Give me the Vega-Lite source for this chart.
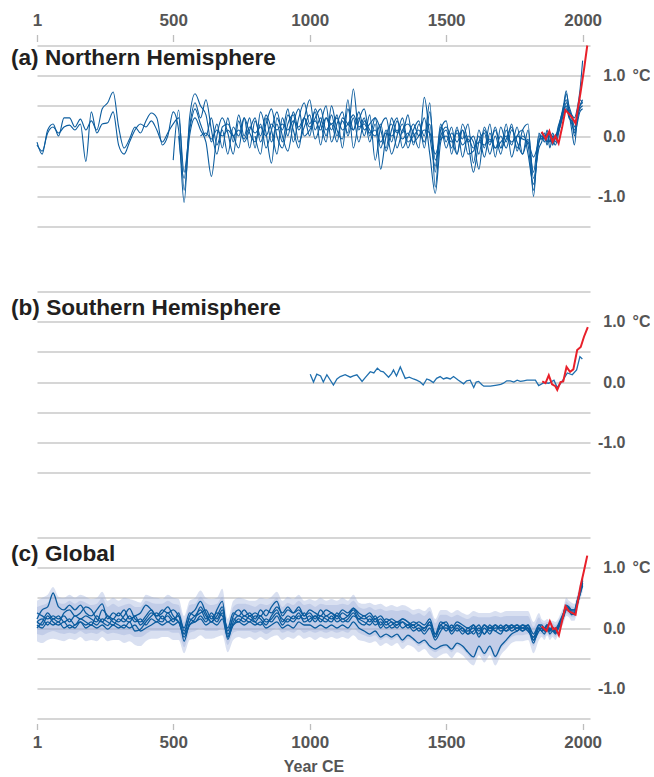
{
"$schema": "https://vega.github.io/schema/vega-lite/v6.json",
"padding": {"top": 11.5, "left": 11, "right": 0, "bottom": 0},
"config": {"font": "Liberation Sans", "view": {"stroke": null}},
"spacing": 65,
"datasets": {
"nh": [
{"x":1,"a":-0.1,"b":-0.15},{"x":20,"a":-0.3,"b":-0.25},{"x":40,"a":0.1,"b":0.05},{"x":60,"a":0.2,"b":0.15},{"x":80,"a":0.0,"b":0.05},
{"x":100,"a":0.3,"b":0.15},{"x":120,"a":0.3,"b":0.18},{"x":140,"a":0.15,"b":0.1},{"x":160,"a":0.28,"b":0.2},{"x":180,"a":0.1,"b":-0.42},
{"x":200,"a":0.25,"b":0.4},{"x":220,"a":0.1,"b":0.05},{"x":240,"a":0.45,"b":0.2},{"x":260,"a":0.55,"b":0.22},{"x":280,"a":0.73,"b":0.4},
{"x":300,"a":0.15,"b":-0.15},{"x":320,"a":-0.2,"b":-0.3},{"x":340,"a":-0.05,"b":-0.1},{"x":360,"a":0.15,"b":0.1},{"x":380,"a":0.05,"b":0.2},
{"x":400,"a":0.25,"b":0.15},{"x":420,"a":0.38,"b":0.25},{"x":440,"a":0.3,"b":0.1},{"x":460,"a":-0.15,"b":-0.1},{"x":480,"a":0.0,"b":0.05},
{"x":500,"a":0.4,"b":0.2,"c":-0.4},{"x":520,"a":0.1,"b":0.3,"c":0.43,"d":0.0},{"x":540,"a":-1.1,"b":-0.6,"c":-0.9,"d":-0.7},{"x":560,"a":0.3,"b":0.1,"c":0.0,"d":0.15},{"x":580,"a":0.7,"b":0.45,"c":0.3,"d":0.55},
{"x":600,"a":0.5,"b":0.2,"c":0.1,"d":0.3,"e":0.0},{"x":620,"a":0.35,"b":0.0,"c":-0.1,"d":0.6,"e":0.05},{"x":640,"a":-0.1,"b":0.3,"c":-0.67,"d":0.1,"e":-0.05},{"x":660,"a":0.2,"b":-0.15,"c":0.0,"d":-0.3,"e":0.1},{"x":680,"a":-0.2,"b":0.1,"c":0.3,"d":0.15,"e":0.0},
{"x":700,"a":0.3,"b":-0.3,"c":0.05,"d":0.2,"e":0.1},{"x":720,"a":-0.1,"b":0.15,"c":-0.3,"d":0.0,"e":0.0},{"x":740,"a":0.35,"b":0.0,"c":0.25,"d":-0.2,"e":0.1},{"x":760,"a":0.0,"b":0.3,"c":-0.1,"d":0.3,"e":-0.05},{"x":780,"a":0.3,"b":-0.2,"c":0.1,"d":0.05,"e":0.15},
{"x":800,"a":-0.2,"b":0.25,"c":0.3,"d":-0.1,"e":0.05,"f":0.0},{"x":820,"a":0.4,"b":0.0,"c":-0.1,"d":0.2,"e":0.15,"f":-0.3},{"x":840,"a":0.05,"b":0.35,"c":0.2,"d":-0.2,"e":0.0,"f":0.3},{"x":860,"a":-0.45,"b":0.1,"c":0.45,"d":0.1,"e":0.2,"f":-0.1},{"x":880,"a":0.3,"b":-0.3,"c":0.0,"d":0.4,"e":0.1,"f":0.2},
{"x":900,"a":0.1,"b":0.3,"c":-0.2,"d":0.0,"e":0.2,"f":-0.1},{"x":920,"a":0.45,"b":0.0,"c":0.2,"d":-0.25,"e":0.1,"f":0.35},{"x":940,"a":-0.1,"b":0.4,"c":0.35,"d":0.2,"e":0.25,"f":0.1},{"x":960,"a":0.3,"b":0.1,"c":-0.1,"d":0.45,"e":0.15,"f":-0.2},{"x":980,"a":0.55,"b":0.3,"c":0.15,"d":0.0,"e":0.3,"f":0.3},
{"x":1000,"a":0.2,"b":0.6,"c":0.35,"d":0.1,"e":0.15,"f":0.0},{"x":1020,"a":0.4,"b":0.1,"c":-0.05,"d":0.3,"e":0.25,"f":0.45},{"x":1040,"a":-0.15,"b":0.3,"c":0.2,"d":0.45,"e":0.1,"f":0.2},{"x":1060,"a":0.3,"b":0.0,"c":0.5,"d":0.1,"e":0.3,"f":-0.1},{"x":1080,"a":0.1,"b":0.35,"c":-0.1,"d":0.2,"e":0.2,"f":0.5},
{"x":1100,"a":0.35,"b":0.0,"c":0.2,"d":-0.1,"e":0.3,"f":0.1},{"x":1120,"a":-0.2,"b":0.25,"c":0.4,"d":0.3,"e":0.1,"f":-0.05},{"x":1140,"a":0.45,"b":0.05,"c":0.0,"d":0.2,"e":0.2,"f":0.6},{"x":1160,"a":0.1,"b":0.78,"c":0.3,"d":0.1,"e":0.35,"f":-0.2},{"x":1180,"a":0.3,"b":0.1,"c":-0.1,"d":0.4,"e":0.15,"f":0.25},
{"x":1200,"a":0.0,"b":0.3,"c":0.25,"d":0.1,"e":0.2,"f":0.45},{"x":1220,"a":0.35,"b":-0.1,"c":0.1,"d":0.2,"e":0.05,"f":0.0},{"x":1240,"a":-0.4,"b":0.2,"c":0.0,"d":0.3,"e":0.1,"f":0.3},{"x":1260,"a":0.15,"b":-0.55,"c":0.2,"d":-0.2,"e":-0.1,"f":0.1},{"x":1280,"a":0.3,"b":0.0,"c":-0.25,"d":0.1,"e":0.05,"f":-0.2},
{"x":1300,"a":-0.1,"b":0.2,"c":0.1,"d":-0.3,"e":0.0,"f":0.3},{"x":1320,"a":0.25,"b":-0.2,"c":0.3,"d":0.0,"e":0.1,"f":0.05},{"x":1340,"a":0.05,"b":0.1,"c":-0.2,"d":0.3,"e":-0.05,"f":0.2},{"x":1360,"a":0.35,"b":0.2,"c":0.0,"d":-0.1,"e":0.05,"f":-0.2},{"x":1380,"a":-0.15,"b":0.05,"c":0.2,"d":0.0,"e":-0.1,"f":0.1},
{"x":1400,"a":0.2,"b":-0.2,"c":0.0,"d":0.1,"e":0.0,"f":0.25},{"x":1420,"a":0.0,"b":0.64,"c":0.3,"d":-0.1,"e":0.1,"f":-0.2},{"x":1440,"a":0.55,"b":0.0,"c":-0.3,"d":0.2,"e":0.05,"f":0.4},{"x":1460,"a":-0.85,"b":-0.5,"c":-0.95,"d":-0.6,"e":-0.3,"f":-0.4},{"x":1480,"a":0.1,"b":0.2,"c":-0.1,"d":0.15,"e":-0.05,"f":0.0},
{"x":1500,"a":0.25,"b":-0.1,"c":0.1,"d":-0.2,"e":0.0,"f":0.15},{"x":1520,"a":-0.3,"b":0.15,"c":-0.2,"d":0.05,"e":-0.1,"f":-0.05},{"x":1540,"a":0.1,"b":-0.3,"c":0.15,"d":-0.1,"e":0.05,"f":-0.3},{"x":1560,"a":-0.05,"b":0.2,"c":-0.35,"d":0.1,"e":-0.15,"f":0.1},{"x":1580,"a":0.2,"b":-0.1,"c":0.0,"d":-0.3,"e":-0.05,"f":-0.1},
{"x":1600,"a":-0.45,"b":-0.6,"c":-0.1,"d":-0.25,"e":-0.2,"f":0.0},{"x":1620,"a":0.1,"b":-0.1,"c":-0.55,"d":0.0,"e":-0.1,"f":-0.3},{"x":1640,"a":-0.2,"b":0.05,"c":0.1,"d":-0.35,"e":-0.15,"f":0.15},{"x":1660,"a":0.2,"b":-0.3,"c":-0.15,"d":0.05,"e":-0.05,"f":-0.1},{"x":1680,"a":-0.35,"b":0.0,"c":0.15,"d":-0.2,"e":-0.2,"f":0.1},
{"x":1700,"a":0.15,"b":-0.3,"c":-0.2,"d":0.0,"e":-0.1,"f":-0.2},{"x":1720,"a":-0.1,"b":0.1,"c":0.2,"d":-0.2,"e":0.0,"f":-0.05},{"x":1740,"a":0.2,"b":-0.15,"c":-0.35,"d":0.1,"e":-0.1,"f":0.15},{"x":1760,"a":-0.25,"b":0.15,"c":0.0,"d":-0.1,"e":0.0,"f":-0.2},{"x":1780,"a":0.1,"b":-0.3,"c":0.1,"d":-0.3,"e":-0.05,"f":0.0},
{"x":1800,"a":0.2,"b":-0.05,"c":-0.3,"d":0.1,"e":-0.1,"f":-0.15},{"x":1820,"a":-1.0,"b":-0.6,"c":-0.8,"d":-0.7,"e":-0.35,"f":-0.9},{"x":1840,"a":0.05,"b":0.0,"c":-0.1,"d":-0.2,"e":-0.1,"f":-0.05},
{"x":1850,"a":-0.05,"b":0.0,"c":0.05,"d":-0.1,"e":0.0,"f":-0.05},{"x":1860,"a":0.0,"b":-0.1,"c":-0.05,"d":0.05,"e":-0.05,"f":0.0},{"x":1870,"a":-0.15,"b":0.05,"c":0.1,"d":-0.1,"e":0.0,"f":-0.1},{"x":1880,"a":0.05,"b":-0.2,"c":-0.1,"d":0.0,"e":-0.1,"f":0.05},
{"x":1890,"a":-0.1,"b":0.0,"c":0.05,"d":-0.15,"e":0.0,"f":-0.05},{"x":1900,"a":0.0,"b":-0.1,"c":-0.05,"d":0.0,"e":-0.05,"f":-0.15},{"x":1910,"a":0.1,"b":0.1,"c":0.15,"d":0.05,"e":0.05,"f":0.0},{"x":1920,"a":0.3,"b":0.25,"c":0.3,"d":0.2,"e":0.2,"f":0.25},
{"x":1930,"a":0.45,"b":0.5,"c":0.5,"d":0.4,"e":0.35,"f":0.4},{"x":1940,"a":0.7,"b":0.75,"c":0.6,"d":0.55,"e":0.45,"f":0.5},{"x":1950,"a":0.5,"b":0.4,"c":0.35,"d":0.45,"e":0.4,"f":0.3},{"x":1960,"a":0.35,"b":0.1,"c":0.2,"d":0.3,"e":0.35,"f":0.25},
{"x":1970,"a":0.15,"b":-0.15,"c":0.1,"d":0.0,"e":0.3,"f":0.05},{"x":1980,"a":0.35,"b":0.25,"c":0.3,"d":0.2,"e":0.45,"f":0.3},{"x":1990,"a":0.6,"b":0.45,"c":0.5,"d":0.4,"e":0.75,"f":0.5},{"x":2000,"a":0.55,"b":0.5,"c":0.6,"d":0.45,"e":1.25,"f":0.55}
],
"gl": [
{"x":1,"a":0.15,"b":0.0,"c":0.25,"d":0.05,"e":0.1,"f":0.1,"h1":0.45,"h2":0.35,"l2":-0.1,"l1":-0.22},
{"x":20,"a":0.3,"b":0.1,"c":0.2,"d":0.0,"e":0.15,"f":0.05,"h1":0.5,"h2":0.38,"l2":-0.12,"l1":-0.25},
{"x":40,"a":0.35,"b":0.25,"c":0.15,"d":0.1,"e":0.05,"f":0.2,"h1":0.55,"h2":0.42,"l2":-0.08,"l1":-0.2},
{"x":60,"a":0.58,"b":0.15,"c":0.2,"d":0.05,"e":0.15,"f":0.1,"h1":0.68,"h2":0.55,"l2":-0.05,"l1":-0.18},
{"x":80,"a":0.35,"b":0.2,"c":0.15,"d":0.1,"e":0.1,"f":0.05,"h1":0.52,"h2":0.42,"l2":-0.08,"l1":-0.2},
{"x":100,"a":0.3,"b":0.1,"c":0.2,"d":0.0,"e":0.25,"f":0.1,"h1":0.5,"h2":0.4,"l2":-0.1,"l1":-0.22},
{"x":120,"a":0.38,"b":0.15,"c":0.1,"d":0.05,"e":0.3,"f":0.0,"h1":0.55,"h2":0.45,"l2":-0.08,"l1":-0.18},
{"x":140,"a":0.3,"b":0.05,"c":0.2,"d":0.0,"e":0.2,"f":0.05,"h1":0.5,"h2":0.4,"l2":-0.1,"l1":-0.2},
{"x":160,"a":0.38,"b":0.15,"c":0.15,"d":0.1,"e":0.25,"f":0.1,"h1":0.55,"h2":0.45,"l2":-0.05,"l1":-0.15},
{"x":180,"a":0.25,"b":0.1,"c":0.2,"d":0.05,"e":0.35,"f":0.0,"h1":0.52,"h2":0.42,"l2":-0.1,"l1":-0.22},
{"x":200,"a":0.2,"b":0.05,"c":0.15,"d":0.1,"e":0.3,"f":0.05,"h1":0.48,"h2":0.38,"l2":-0.08,"l1":-0.2},
{"x":220,"a":0.3,"b":0.2,"c":0.1,"d":0.05,"e":0.15,"f":0.0,"h1":0.5,"h2":0.4,"l2":-0.1,"l1":-0.22},
{"x":240,"a":0.4,"b":0.1,"c":0.3,"d":0.15,"e":0.1,"f":0.05,"h1":0.6,"h2":0.5,"l2":-0.05,"l1":-0.15},
{"x":260,"a":0.15,"b":0.04,"c":0.2,"d":0.1,"e":0.2,"f":-0.02,"h1":0.45,"h2":0.35,"l2":-0.1,"l1":-0.22},
{"x":280,"a":0.25,"b":0.15,"c":0.1,"d":0.05,"e":0.15,"f":0.05,"h1":0.5,"h2":0.4,"l2":-0.08,"l1":-0.2},
{"x":300,"a":0.2,"b":0.1,"c":0.05,"d":0.15,"e":0.25,"f":0.0,"h1":0.45,"h2":0.35,"l2":-0.1,"l1":-0.2},
{"x":320,"a":0.3,"b":0.2,"c":0.0,"d":0.1,"e":0.15,"f":0.05,"h1":0.5,"h2":0.38,"l2":-0.12,"l1":-0.25},
{"x":340,"a":0.15,"b":0.32,"c":0.1,"d":0.2,"e":0.1,"f":0.0,"h1":0.48,"h2":0.4,"l2":-0.1,"l1":-0.22},
{"x":360,"a":0.2,"b":0.15,"c":-0.05,"d":0.1,"e":0.2,"f":0.05,"h1":0.45,"h2":0.35,"l2":-0.15,"l1":-0.28},
{"x":380,"a":0.25,"b":0.1,"c":-0.02,"d":0.15,"e":0.05,"f":-0.05,"h1":0.42,"h2":0.35,"l2":-0.15,"l1":-0.3},
{"x":400,"a":0.38,"b":0.2,"c":0.1,"d":0.05,"e":0.15,"f":0.0,"h1":0.55,"h2":0.45,"l2":-0.1,"l1":-0.22},
{"x":420,"a":0.3,"b":0.3,"c":0.2,"d":0.15,"e":0.25,"f":0.05,"h1":0.52,"h2":0.42,"l2":-0.05,"l1":-0.18},
{"x":440,"a":0.2,"b":0.15,"c":0.25,"d":0.1,"e":0.2,"f":0.1,"h1":0.5,"h2":0.4,"l2":-0.05,"l1":-0.18},
{"x":460,"a":0.25,"b":0.1,"c":0.15,"d":0.2,"e":0.3,"f":0.05,"h1":0.48,"h2":0.4,"l2":-0.05,"l1":-0.15},
{"x":480,"a":0.35,"b":0.25,"c":0.2,"d":0.1,"e":0.25,"f":0.1,"h1":0.55,"h2":0.45,"l2":-0.05,"l1":-0.15},
{"x":500,"a":0.2,"b":0.15,"c":0.1,"d":0.15,"e":0.3,"f":0.05,"h1":0.5,"h2":0.4,"l2":-0.08,"l1":-0.2},
{"x":520,"a":0.1,"b":0.2,"c":0.25,"d":0.1,"e":0.2,"f":0.1,"h1":0.48,"h2":0.38,"l2":-0.08,"l1":-0.2},
{"x":540,"a":-0.1,"b":-0.22,"c":-0.05,"d":-0.15,"e":0.0,"f":-0.1,"h1":0.2,"h2":0.1,"l2":-0.32,"l1":-0.42},
{"x":560,"a":0.2,"b":0.1,"c":0.15,"d":0.05,"e":0.25,"f":0.05,"h1":0.45,"h2":0.38,"l2":-0.08,"l1":-0.2},
{"x":580,"a":0.3,"b":0.2,"c":0.1,"d":0.15,"e":0.2,"f":0.1,"h1":0.5,"h2":0.4,"l2":-0.05,"l1":-0.18},
{"x":600,"a":0.44,"b":0.3,"c":0.2,"d":0.35,"e":0.25,"f":0.15,"h1":0.62,"h2":0.52,"l2":0.0,"l1":-0.12},
{"x":620,"a":0.25,"b":0.15,"c":0.1,"d":0.2,"e":0.3,"f":0.05,"h1":0.5,"h2":0.42,"l2":-0.05,"l1":-0.18},
{"x":640,"a":0.1,"b":0.2,"c":0.25,"d":0.1,"e":0.15,"f":0.1,"h1":0.48,"h2":0.38,"l2":-0.05,"l1":-0.18},
{"x":660,"a":0.3,"b":0.1,"c":0.15,"d":0.2,"e":0.25,"f":0.05,"h1":0.5,"h2":0.4,"l2":-0.05,"l1":-0.15},
{"x":680,"a":0.44,"b":0.25,"c":0.3,"d":0.35,"e":0.2,"f":0.15,"h1":0.65,"h2":0.52,"l2":0.0,"l1":-0.12},
{"x":700,"a":-0.15,"b":-0.19,"c":-0.05,"d":-0.1,"e":0.0,"f":-0.15,"h1":0.15,"h2":0.05,"l2":-0.28,"l1":-0.4},
{"x":720,"a":0.2,"b":0.1,"c":0.15,"d":0.05,"e":0.25,"f":0.05,"h1":0.45,"h2":0.35,"l2":-0.08,"l1":-0.2},
{"x":740,"a":0.3,"b":0.2,"c":0.1,"d":0.15,"e":0.2,"f":0.1,"h1":0.5,"h2":0.4,"l2":-0.05,"l1":-0.15},
{"x":760,"a":0.2,"b":0.15,"c":0.2,"d":0.1,"e":0.3,"f":0.05,"h1":0.48,"h2":0.4,"l2":-0.05,"l1":-0.18},
{"x":780,"a":0.25,"b":0.1,"c":0.15,"d":0.2,"e":0.2,"f":0.1,"h1":0.45,"h2":0.38,"l2":-0.05,"l1":-0.15},
{"x":800,"a":0.15,"b":0.2,"c":0.1,"d":0.1,"e":0.25,"f":0.05,"h1":0.45,"h2":0.35,"l2":-0.08,"l1":-0.2},
{"x":820,"a":0.3,"b":0.15,"c":0.2,"d":0.05,"e":0.2,"f":0.1,"h1":0.5,"h2":0.4,"l2":-0.05,"l1":-0.15},
{"x":840,"a":0.2,"b":0.05,"c":0.1,"d":0.15,"e":0.3,"f":0.0,"h1":0.48,"h2":0.38,"l2":-0.1,"l1":-0.2},
{"x":860,"a":0.35,"b":0.2,"c":0.15,"d":0.1,"e":0.25,"f":0.05,"h1":0.52,"h2":0.42,"l2":-0.05,"l1":-0.15},
{"x":880,"a":0.44,"b":0.3,"c":0.25,"d":0.2,"e":0.35,"f":0.1,"h1":0.6,"h2":0.5,"l2":0.0,"l1":-0.12},
{"x":900,"a":0.2,"b":0.1,"c":0.15,"d":0.05,"e":0.25,"f":0.0,"h1":0.45,"h2":0.35,"l2":-0.08,"l1":-0.2},
{"x":920,"a":0.3,"b":0.2,"c":0.1,"d":0.15,"e":0.35,"f":0.05,"h1":0.52,"h2":0.42,"l2":-0.05,"l1":-0.15},
{"x":940,"a":0.25,"b":0.15,"c":0.2,"d":0.1,"e":0.25,"f":0.0,"h1":0.48,"h2":0.38,"l2":-0.08,"l1":-0.18},
{"x":960,"a":0.35,"b":0.25,"c":0.15,"d":0.2,"e":0.3,"f":0.1,"h1":0.55,"h2":0.45,"l2":-0.02,"l1":-0.12},
{"x":980,"a":0.2,"b":0.1,"c":0.25,"d":0.15,"e":0.2,"f":0.05,"h1":0.45,"h2":0.38,"l2":-0.08,"l1":-0.18},
{"x":1000,"a":0.25,"b":0.15,"c":0.1,"d":0.2,"e":0.3,"f":0.05,"h1":0.48,"h2":0.4,"l2":-0.05,"l1":-0.15},
{"x":1020,"a":0.15,"b":0.2,"c":0.2,"d":0.1,"e":0.25,"f":0.0,"h1":0.45,"h2":0.35,"l2":-0.08,"l1":-0.2},
{"x":1040,"a":0.3,"b":0.1,"c":0.15,"d":0.2,"e":0.2,"f":0.05,"h1":0.5,"h2":0.4,"l2":-0.05,"l1":-0.15},
{"x":1060,"a":0.2,"b":0.2,"c":0.1,"d":0.15,"e":0.3,"f":0.0,"h1":0.45,"h2":0.38,"l2":-0.08,"l1":-0.18},
{"x":1080,"a":0.25,"b":0.15,"c":0.2,"d":0.1,"e":0.25,"f":0.05,"h1":0.48,"h2":0.38,"l2":-0.05,"l1":-0.15},
{"x":1100,"a":0.15,"b":0.2,"c":0.1,"d":0.25,"e":0.2,"f":0.0,"h1":0.45,"h2":0.38,"l2":-0.08,"l1":-0.18},
{"x":1120,"a":0.25,"b":0.1,"c":0.15,"d":0.15,"e":0.3,"f":0.05,"h1":0.5,"h2":0.4,"l2":-0.05,"l1":-0.15},
{"x":1140,"a":0.2,"b":0.15,"c":0.1,"d":0.2,"e":0.25,"f":0.0,"h1":0.45,"h2":0.38,"l2":-0.08,"l1":-0.18},
{"x":1160,"a":0.33,"b":0.25,"c":0.2,"d":0.3,"e":0.33,"f":0.1,"h1":0.55,"h2":0.45,"l2":0.0,"l1":-0.12},
{"x":1180,"a":0.2,"b":0.1,"c":0.15,"d":0.15,"e":0.25,"f":0.0,"h1":0.42,"h2":0.35,"l2":-0.08,"l1":-0.2},
{"x":1200,"a":0.15,"b":0.05,"c":0.1,"d":0.2,"e":0.2,"f":-0.05,"h1":0.4,"h2":0.32,"l2":-0.12,"l1":-0.22},
{"x":1220,"a":0.2,"b":0.15,"c":0.05,"d":0.1,"e":0.25,"f":-0.1,"h1":0.42,"h2":0.35,"l2":-0.15,"l1":-0.25},
{"x":1240,"a":0.1,"b":0.05,"c":0.15,"d":0.2,"e":0.15,"f":-0.05,"h1":0.38,"h2":0.3,"l2":-0.12,"l1":-0.22},
{"x":1260,"a":0.15,"b":0.1,"c":0.0,"d":0.05,"e":0.2,"f":-0.15,"h1":0.4,"h2":0.32,"l2":-0.2,"l1":-0.3},
{"x":1280,"a":0.05,"b":0.0,"c":0.1,"d":0.15,"e":0.1,"f":-0.1,"h1":0.35,"h2":0.28,"l2":-0.15,"l1":-0.25},
{"x":1300,"a":0.1,"b":0.05,"c":0.0,"d":0.1,"e":0.15,"f":-0.15,"h1":0.38,"h2":0.3,"l2":-0.2,"l1":-0.3},
{"x":1320,"a":0.05,"b":0.1,"c":0.05,"d":0.0,"e":0.1,"f":-0.1,"h1":0.35,"h2":0.28,"l2":-0.15,"l1":-0.25},
{"x":1340,"a":0.15,"b":0.0,"c":0.1,"d":0.1,"e":0.15,"f":-0.2,"h1":0.38,"h2":0.3,"l2":-0.25,"l1":-0.35},
{"x":1360,"a":0.1,"b":0.05,"c":0.0,"d":0.05,"e":0.1,"f":-0.12,"h1":0.35,"h2":0.28,"l2":-0.18,"l1":-0.28},
{"x":1380,"a":0.0,"b":-0.05,"c":0.05,"d":0.1,"e":0.05,"f":-0.18,"h1":0.3,"h2":0.22,"l2":-0.22,"l1":-0.32},
{"x":1400,"a":0.05,"b":0.0,"c":-0.05,"d":0.05,"e":0.1,"f":-0.25,"h1":0.32,"h2":0.25,"l2":-0.3,"l1":-0.4},
{"x":1420,"a":-0.05,"b":-0.1,"c":0.0,"d":0.0,"e":0.05,"f":-0.2,"h1":0.28,"h2":0.2,"l2":-0.25,"l1":-0.35},
{"x":1440,"a":0.1,"b":0.0,"c":0.05,"d":0.1,"e":0.15,"f":-0.3,"h1":0.35,"h2":0.28,"l2":-0.35,"l1":-0.45},
{"x":1460,"a":-0.15,"b":-0.2,"c":-0.1,"d":-0.15,"e":-0.1,"f":-0.35,"h1":0.15,"h2":0.08,"l2":-0.4,"l1":-0.5},
{"x":1480,"a":0.05,"b":-0.05,"c":0.0,"d":0.05,"e":0.1,"f":-0.3,"h1":0.3,"h2":0.22,"l2":-0.35,"l1":-0.45},
{"x":1500,"a":0.1,"b":0.05,"c":0.0,"d":-0.05,"e":0.05,"f":-0.28,"h1":0.3,"h2":0.22,"l2":-0.32,"l1":-0.42},
{"x":1520,"a":-0.05,"b":-0.1,"c":-0.05,"d":0.05,"e":0.0,"f":-0.35,"h1":0.25,"h2":0.18,"l2":-0.4,"l1":-0.5},
{"x":1540,"a":0.05,"b":0.0,"c":0.05,"d":-0.05,"e":0.1,"f":-0.25,"h1":0.3,"h2":0.22,"l2":-0.3,"l1":-0.4},
{"x":1560,"a":0.0,"b":-0.1,"c":-0.05,"d":0.0,"e":0.05,"f":-0.3,"h1":0.25,"h2":0.18,"l2":-0.35,"l1":-0.45},
{"x":1580,"a":-0.1,"b":0.0,"c":-0.05,"d":-0.1,"e":0.0,"f":-0.4,"h1":0.22,"h2":0.15,"l2":-0.45,"l1":-0.55},
{"x":1600,"a":0.05,"b":-0.1,"c":0.0,"d":-0.05,"e":0.05,"f":-0.48,"h1":0.28,"h2":0.2,"l2":-0.52,"l1":-0.62},
{"x":1620,"a":-0.15,"b":0.0,"c":-0.1,"d":0.05,"e":-0.05,"f":-0.3,"h1":0.25,"h2":0.18,"l2":-0.35,"l1":-0.45},
{"x":1640,"a":0.0,"b":-0.1,"c":0.05,"d":-0.1,"e":0.05,"f":-0.42,"h1":0.25,"h2":0.18,"l2":-0.47,"l1":-0.57},
{"x":1660,"a":-0.1,"b":0.0,"c":-0.05,"d":0.05,"e":0.0,"f":-0.3,"h1":0.25,"h2":0.18,"l2":-0.35,"l1":-0.45},
{"x":1680,"a":0.05,"b":-0.05,"c":0.0,"d":-0.05,"e":0.05,"f":-0.47,"h1":0.28,"h2":0.2,"l2":-0.52,"l1":-0.62},
{"x":1700,"a":-0.05,"b":-0.1,"c":0.0,"d":0.05,"e":0.0,"f":-0.3,"h1":0.25,"h2":0.18,"l2":-0.35,"l1":-0.45},
{"x":1720,"a":0.0,"b":0.05,"c":-0.05,"d":-0.05,"e":0.05,"f":-0.2,"h1":0.28,"h2":0.2,"l2":-0.25,"l1":-0.35},
{"x":1740,"a":0.05,"b":-0.05,"c":0.05,"d":0.0,"e":0.0,"f":-0.1,"h1":0.28,"h2":0.2,"l2":-0.15,"l1":-0.25},
{"x":1760,"a":-0.05,"b":0.0,"c":0.0,"d":0.05,"e":0.05,"f":-0.05,"h1":0.28,"h2":0.2,"l2":-0.12,"l1":-0.22},
{"x":1780,"a":0.05,"b":-0.05,"c":0.05,"d":-0.05,"e":0.0,"f":0.0,"h1":0.28,"h2":0.2,"l2":-0.12,"l1":-0.22},
{"x":1800,"a":0.0,"b":0.05,"c":-0.05,"d":0.0,"e":0.05,"f":-0.05,"h1":0.28,"h2":0.2,"l2":-0.1,"l1":-0.2},
{"x":1820,"a":-0.25,"b":-0.2,"c":-0.15,"d":-0.2,"e":-0.1,"f":-0.15,"h1":0.1,"h2":0.02,"l2":-0.3,"l1":-0.42},
{"x":1840,"a":0.0,"b":-0.05,"c":0.0,"d":0.05,"e":0.05,"f":0.0,"h1":0.25,"h2":0.18,"l2":-0.1,"l1":-0.2},
{"x":1850,"a":-0.05,"b":0.0,"c":-0.05,"d":0.0,"e":0.05,"f":-0.05,"h1":0.15,"h2":0.1,"l2":-0.1,"l1":-0.15},
{"x":1860,"a":0.0,"b":-0.05,"c":0.0,"d":-0.05,"e":0.0,"f":-0.1,"h1":0.12,"h2":0.08,"l2":-0.15,"l1":-0.2},
{"x":1870,"a":-0.05,"b":0.0,"c":0.05,"d":0.05,"e":0.05,"f":0.0,"h1":0.15,"h2":0.1,"l2":-0.08,"l1":-0.12},
{"x":1880,"a":0.0,"b":-0.05,"c":-0.05,"d":-0.05,"e":-0.03,"f":-0.1,"h1":0.12,"h2":0.08,"l2":-0.15,"l1":-0.2},
{"x":1890,"a":-0.05,"b":0.0,"c":0.0,"d":0.0,"e":0.02,"f":-0.05,"h1":0.12,"h2":0.08,"l2":-0.1,"l1":-0.15},
{"x":1900,"a":-0.02,"b":-0.05,"c":-0.08,"d":-0.08,"e":-0.05,"f":-0.1,"h1":0.1,"h2":0.05,"l2":-0.15,"l1":-0.2},
{"x":1910,"a":0.05,"b":0.0,"c":0.0,"d":0.0,"e":0.02,"f":-0.02,"h1":0.15,"h2":0.1,"l2":-0.08,"l1":-0.12},
{"x":1920,"a":0.15,"b":0.1,"c":0.1,"d":0.12,"e":0.12,"f":0.08,"h1":0.25,"h2":0.2,"l2":0.03,"l1":-0.02},
{"x":1930,"a":0.25,"b":0.2,"c":0.18,"d":0.22,"e":0.25,"f":0.2,"h1":0.35,"h2":0.3,"l2":0.12,"l1":0.08},
{"x":1940,"a":0.38,"b":0.33,"c":0.3,"d":0.35,"e":0.36,"f":0.32,"h1":0.5,"h2":0.44,"l2":0.25,"l1":0.2},
{"x":1950,"a":0.35,"b":0.3,"c":0.32,"d":0.3,"e":0.33,"f":0.28,"h1":0.45,"h2":0.4,"l2":0.22,"l1":0.18},
{"x":1960,"a":0.3,"b":0.25,"c":0.28,"d":0.25,"e":0.3,"f":0.22,"h1":0.42,"h2":0.36,"l2":0.18,"l1":0.12},
{"x":1970,"a":0.3,"b":0.25,"c":0.28,"d":0.22,"e":0.3,"f":0.25,"h1":0.4,"h2":0.35,"l2":0.18,"l1":0.12},
{"x":1980,"a":0.45,"b":0.4,"c":0.42,"d":0.4,"e":0.45,"f":0.38,"h1":0.55,"h2":0.5,"l2":0.33,"l1":0.28},
{"x":1990,"a":0.6,"b":0.55,"c":0.6,"d":0.58,"e":0.62,"f":0.55,"h1":0.72,"h2":0.66,"l2":0.5,"l1":0.45},
{"x":2000,"a":0.78,"b":0.75,"c":0.8,"d":0.72,"e":0.82,"f":0.7,"h1":0.9,"h2":0.85,"l2":0.65,"l1":0.6}
]
},
"vconcat": [
{
"width": 553, "height": 181,
"title": {"text": "(a) Northern Hemisphere", "anchor": "start", "frame": "group", "dx": -26, "offset": -76, "baseline": "alphabetic", "fontSize": 22.6, "fontWeight": "bold", "color": "#231f20"},
"encoding": {
"x": {"field": "x", "type": "quantitative", "scale": {"domain": [1, 2027], "nice": false, "zero": false},
 "axis": {"orient": "top", "values": [1, 500, 1000, 1500, 2000], "format": "d", "grid": false, "domain": false, "ticks": true, "tickSize": 7, "tickColor": "#bdbdbd", "tickWidth": 1.3, "offset": 4, "labelPadding": 5, "labelFontSize": 17, "labelFontWeight": "bold", "labelColor": "#555555", "labelFlush": false, "title": null}},
"y": {"field": "value", "type": "quantitative", "scale": {"domain": [-1.5, 1.5], "nice": false, "zero": false},
 "axis": {"orient": "right", "values": [-1.5, -1, -0.5, 0, 0.5, 1, 1.5], "grid": true, "gridColor": "#c8c8c8", "gridWidth": 1.3, "ticks": false, "domain": false, "labelExpr": "datum.value == 1 ? '1.0' : datum.value == 0 ? '0.0' : datum.value == -1 ? '-1.0' : ''", "labelAlign": "right", "labelBaseline": "middle", "labelPadding": 35, "labelFontSize": 16, "labelFontWeight": "bold", "labelColor": "#555555", "title": "°C", "titleAngle": 0, "titleX": 42, "titleY": 30, "titleAlign": "left", "titleBaseline": "middle", "titleFontSize": 16, "titleFontWeight": "bold", "titleColor": "#555555"}}
},
"layer": [
{"data": {"name": "nh"}, "transform": [{"fold": ["a", "b", "c", "d", "e", "f"], "as": ["series", "value"]}, {"filter": "isValid(datum.value)"}],
 "mark": {"type": "line", "color": "#0b5c9e", "strokeWidth": 1.1, "interpolate": "monotone"}, "encoding": {"detail": {"field": "series"}}},
{"data": {"values": [{"x":1850,"value":0.07},{"x":1865,"value":-0.05},{"x":1878,"value":0.08},{"x":1890,"value":-0.1},{"x":1900,"value":0.0},{"x":1912,"value":-0.12},{"x":1925,"value":0.15},{"x":1937,"value":0.43},{"x":1949,"value":0.37},{"x":1962,"value":0.3},{"x":1974,"value":0.21},{"x":1992,"value":0.71},{"x":2005,"value":1.1},{"x":2017,"value":1.5}]},
 "mark": {"type": "line", "color": "#e8202a", "strokeWidth": 2}}
]
},
{
"width": 553, "height": 181,
"title": {"text": "(b) Southern Hemisphere", "anchor": "start", "frame": "group", "dx": -26, "offset": -46, "baseline": "alphabetic", "fontSize": 22.6, "fontWeight": "bold", "color": "#231f20"},
"encoding": {
"x": {"field": "x", "type": "quantitative", "scale": {"domain": [1, 2027], "nice": false, "zero": false}, "axis": null},
"y": {"field": "value", "type": "quantitative", "scale": {"domain": [-1.5, 1.5], "nice": false, "zero": false},
 "axis": {"orient": "right", "values": [-1.5, -1, -0.5, 0, 0.5, 1, 1.5], "grid": true, "gridColor": "#c8c8c8", "gridWidth": 1.3, "ticks": false, "domain": false, "labelExpr": "datum.value == 1 ? '1.0' : datum.value == 0 ? '0.0' : datum.value == -1 ? '-1.0' : ''", "labelAlign": "right", "labelBaseline": "middle", "labelPadding": 35, "labelFontSize": 16, "labelFontWeight": "bold", "labelColor": "#555555", "title": "°C", "titleAngle": 0, "titleX": 42, "titleY": 30, "titleAlign": "left", "titleBaseline": "middle", "titleFontSize": 16, "titleFontWeight": "bold", "titleColor": "#555555"}}
},
"layer": [
{"data": {"values": [{"x":1002,"value":0.13},{"x":1014,"value":0.0},{"x":1026,"value":0.13},{"x":1040,"value":0.1},{"x":1050,"value":0.0},{"x":1063,"value":0.12},{"x":1087,"value":-0.05},{"x":1100,"value":0.05},{"x":1112,"value":0.09},{"x":1130,"value":0.12},{"x":1149,"value":0.08},{"x":1160,"value":0.1},{"x":1173,"value":0.12},{"x":1192,"value":0.01},{"x":1205,"value":0.08},{"x":1222,"value":0.17},{"x":1235,"value":0.15},{"x":1248,"value":0.23},{"x":1260,"value":0.18},{"x":1270,"value":0.17},{"x":1289,"value":0.08},{"x":1300,"value":0.14},{"x":1307,"value":0.2},{"x":1318,"value":0.1},{"x":1332,"value":0.25},{"x":1350,"value":0.06},{"x":1365,"value":0.08},{"x":1380,"value":0.05},{"x":1392,"value":0.03},{"x":1405,"value":0.0},{"x":1416,"value":-0.05},{"x":1429,"value":0.05},{"x":1440,"value":0.03},{"x":1453,"value":-0.01},{"x":1465,"value":0.06},{"x":1478,"value":0.09},{"x":1490,"value":0.05},{"x":1502,"value":0.07},{"x":1515,"value":0.05},{"x":1527,"value":0.09},{"x":1545,"value":0.03},{"x":1564,"value":-0.03},{"x":1575,"value":0.02},{"x":1588,"value":0.03},{"x":1601,"value":-0.09},{"x":1610,"value":0.0},{"x":1619,"value":0.01},{"x":1630,"value":-0.04},{"x":1638,"value":-0.07},{"x":1662,"value":-0.07},{"x":1686,"value":-0.05},{"x":1700,"value":-0.04},{"x":1710,"value":-0.02},{"x":1722,"value":0.02},{"x":1735,"value":0.02},{"x":1748,"value":0.0},{"x":1760,"value":0.03},{"x":1772,"value":0.01},{"x":1784,"value":0.02},{"x":1796,"value":0.03},{"x":1809,"value":0.03},{"x":1827,"value":0.03},{"x":1839,"value":-0.06},{"x":1858,"value":-0.01},{"x":1876,"value":-0.02},{"x":1895,"value":0.03},{"x":1907,"value":-0.09},{"x":1925,"value":0.01},{"x":1944,"value":0.15},{"x":1962,"value":0.12},{"x":1978,"value":0.2},{"x":1990,"value":0.42},{"x":1999,"value":0.38}]},
 "mark": {"type": "line", "color": "#1f6fae", "strokeWidth": 1.3}},
{"data": {"values": [{"x":1852,"value":0.01},{"x":1864,"value":-0.02},{"x":1876,"value":0.11},{"x":1888,"value":-0.04},{"x":1900,"value":-0.07},{"x":1907,"value":-0.13},{"x":1919,"value":0.0},{"x":1929,"value":0.01},{"x":1941,"value":0.25},{"x":1954,"value":0.17},{"x":1966,"value":0.21},{"x":1980,"value":0.53},{"x":1993,"value":0.58},{"x":2005,"value":0.75},{"x":2019,"value":0.91}]},
 "mark": {"type": "line", "color": "#e8202a", "strokeWidth": 2}}
]
},
{
"width": 553, "height": 181,
"title": {"text": "(c) Global", "anchor": "start", "frame": "group", "dx": -26, "offset": -46, "baseline": "alphabetic", "fontSize": 22.6, "fontWeight": "bold", "color": "#231f20"},
"encoding": {
"x": {"field": "x", "type": "quantitative", "scale": {"domain": [1, 2027], "nice": false, "zero": false},
 "axis": {"orient": "bottom", "values": [1, 500, 1000, 1500, 2000], "format": "d", "grid": false, "domain": false, "ticks": true, "tickSize": 6, "tickColor": "#bdbdbd", "tickWidth": 1.3, "offset": 5, "labelPadding": 5, "labelFontSize": 17, "labelFontWeight": "bold", "labelColor": "#555555", "labelFlush": false, "title": "Year CE", "titleFontSize": 16, "titleFontWeight": "bold", "titleColor": "#555555", "titlePadding": 8}},
"y": {"field": "value", "type": "quantitative", "scale": {"domain": [-1.5, 1.5], "nice": false, "zero": false},
 "axis": {"orient": "right", "values": [-1.5, -1, -0.5, 0, 0.5, 1, 1.5], "grid": true, "gridColor": "#c8c8c8", "gridWidth": 1.3, "ticks": false, "domain": false, "labelExpr": "datum.value == 1 ? '1.0' : datum.value == 0 ? '0.0' : datum.value == -1 ? '-1.0' : ''", "labelAlign": "right", "labelBaseline": "middle", "labelPadding": 35, "labelFontSize": 16, "labelFontWeight": "bold", "labelColor": "#555555", "title": "°C", "titleAngle": 0, "titleX": 42, "titleY": 30, "titleAlign": "left", "titleBaseline": "middle", "titleFontSize": 16, "titleFontWeight": "bold", "titleColor": "#555555"}}
},
"layer": [
{"data": {"name": "gl"}, "mark": {"type": "area", "color": "#9fb2dc", "opacity": 0.4, "interpolate": "monotone"},
 "encoding": {"y": {"field": "l1", "type": "quantitative", "scale": {"domain": [-1.5, 1.5], "nice": false, "zero": false},
  "axis": {"orient": "right", "values": [-1.5, -1, -0.5, 0, 0.5, 1, 1.5], "grid": true, "gridColor": "#c8c8c8", "gridWidth": 1.3, "ticks": false, "domain": false, "labelExpr": "datum.value == 1 ? '1.0' : datum.value == 0 ? '0.0' : datum.value == -1 ? '-1.0' : ''", "labelAlign": "right", "labelBaseline": "middle", "labelPadding": 35, "labelFontSize": 16, "labelFontWeight": "bold", "labelColor": "#555555", "title": "°C", "titleAngle": 0, "titleX": 42, "titleY": 30, "titleAlign": "left", "titleBaseline": "middle", "titleFontSize": 16, "titleFontWeight": "bold", "titleColor": "#555555"}},
  "y2": {"field": "h1"}}},
{"data": {"name": "gl"}, "mark": {"type": "area", "color": "#9fb2dc", "opacity": 0.4, "interpolate": "monotone"},
 "encoding": {"y": {"field": "l2", "type": "quantitative", "scale": {"domain": [-1.5, 1.5], "nice": false, "zero": false},
  "axis": {"orient": "right", "values": [-1.5, -1, -0.5, 0, 0.5, 1, 1.5], "grid": true, "gridColor": "#c8c8c8", "gridWidth": 1.3, "ticks": false, "domain": false, "labelExpr": "datum.value == 1 ? '1.0' : datum.value == 0 ? '0.0' : datum.value == -1 ? '-1.0' : ''", "labelAlign": "right", "labelBaseline": "middle", "labelPadding": 35, "labelFontSize": 16, "labelFontWeight": "bold", "labelColor": "#555555", "title": "°C", "titleAngle": 0, "titleX": 42, "titleY": 30, "titleAlign": "left", "titleBaseline": "middle", "titleFontSize": 16, "titleFontWeight": "bold", "titleColor": "#555555"}},
  "y2": {"field": "h2"}}},
{"data": {"name": "gl"}, "transform": [{"fold": ["a", "b", "c", "d", "e", "f"], "as": ["series", "value"]}, {"filter": "isValid(datum.value)"}],
 "mark": {"type": "line", "color": "#0b5c9e", "strokeWidth": 1.3, "interpolate": "monotone"}, "encoding": {"detail": {"field": "series"}}},
{"data": {"values": [{"x":1850,"value":0.03},{"x":1868,"value":-0.05},{"x":1880,"value":0.11},{"x":1892,"value":-0.02},{"x":1901,"value":0.0},{"x":1913,"value":-0.12},{"x":1925,"value":0.12},{"x":1937,"value":0.36},{"x":1949,"value":0.28},{"x":1962,"value":0.25},{"x":1974,"value":0.22},{"x":1992,"value":0.69},{"x":2005,"value":0.95},{"x":2017,"value":1.2}]},
 "mark": {"type": "line", "color": "#e8202a", "strokeWidth": 2}}
]
}
]
}
